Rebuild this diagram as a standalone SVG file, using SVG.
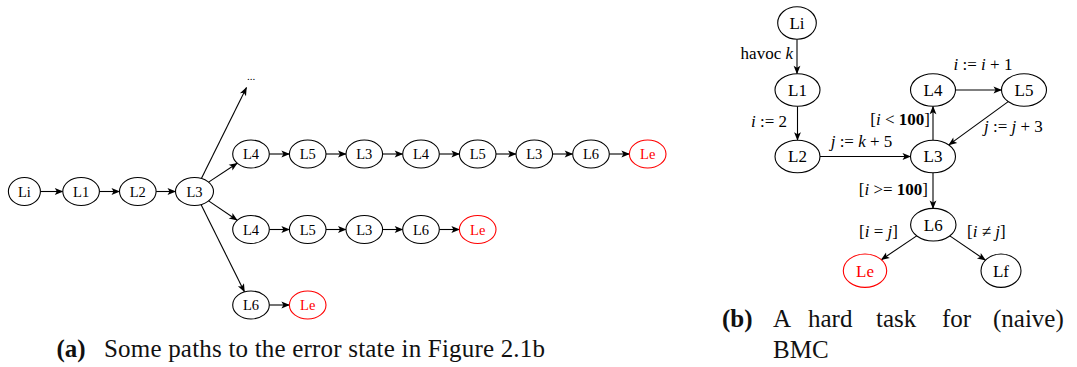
<svg xmlns="http://www.w3.org/2000/svg" width="1077" height="367" viewBox="0 0 1077 367">
<style>
  .n ellipse { fill: #fff; stroke: #000; stroke-width: 1.1; }
  .n text { font-family: "Liberation Serif", "DejaVu Serif", serif; text-anchor: middle; fill: #000; }
  .a text { font-size: 14.5px; }
  .b text { font-size: 17px; }
  .n.err ellipse { stroke: #ff0000; }
  .n.err text { fill: #ff0000; }
  .e line { stroke: #000; stroke-width: 1.1; marker-end: url(#ah); }
  .lbl { font-family: "Liberation Serif", "DejaVu Serif", serif; font-size: 17px; fill: #000; }
  .it { font-style: italic; }
  .bf { font-weight: bold; }
  .cap { font-family: "Liberation Serif", "DejaVu Serif", serif; font-size: 25px; fill: #111; }
</style>
<defs>
  <marker id="ah" markerWidth="10" markerHeight="8" viewBox="-9 -4 10 8" refX="0" refY="0" orient="auto" markerUnits="userSpaceOnUse">
    <path d="M0.5,0 L-8,-3.4 L-6,0 L-8,3.4 Z" fill="#000"/>
  </marker>
</defs>
<rect width="1077" height="367" fill="#fff"/>

<!-- connectors -->
<g id="connectors" class="e">
  <!-- (a) main row -->
  <line x1="40.4" y1="191.5" x2="62.8" y2="191.5"/>
  <line x1="99.4" y1="191.5" x2="119.5" y2="191.5"/>
  <line x1="156.1" y1="191.5" x2="175.5" y2="191.5"/>
  <line x1="201.5" y1="178.2" x2="246.5" y2="87.5"/>
  <line x1="208.6" y1="182.1" x2="237.2" y2="163.2"/>
  <line x1="208.6" y1="200.9" x2="237.2" y2="220.3"/>
  <line x1="201.0" y1="204.6" x2="244.5" y2="291.9"/>
  <!-- top row -->
  <line x1="269.3" y1="154" x2="289.4" y2="154"/>
  <line x1="326.0" y1="154" x2="346.0" y2="154"/>
  <line x1="382.6" y1="154" x2="402.7" y2="154"/>
  <line x1="439.3" y1="154" x2="459.4" y2="154"/>
  <line x1="496.0" y1="154" x2="516.0" y2="154"/>
  <line x1="552.6" y1="154" x2="572.7" y2="154"/>
  <line x1="609.3" y1="154" x2="629.4" y2="154"/>
  <!-- middle row -->
  <line x1="269.3" y1="229.5" x2="289.4" y2="229.5"/>
  <line x1="326.0" y1="229.5" x2="346.0" y2="229.5"/>
  <line x1="382.6" y1="229.5" x2="402.7" y2="229.5"/>
  <line x1="439.3" y1="229.5" x2="459.4" y2="229.5"/>
  <!-- bottom row -->
  <line x1="269.3" y1="305" x2="289.4" y2="305"/>
  <!-- (b) -->
  <line x1="797" y1="39.3" x2="797" y2="73.7"/>
  <line x1="797.5" y1="106.3" x2="797.5" y2="140.2"/>
  <line x1="820" y1="156.5" x2="910.5" y2="156.5"/>
  <line x1="933" y1="140.2" x2="933" y2="106.3"/>
  <line x1="955.5" y1="90" x2="1001.5" y2="90"/>
  <line x1="1008.2" y1="101.6" x2="948.8" y2="144.9"/>
  <line x1="933" y1="172.8" x2="933" y2="208.4"/>
  <line x1="916.7" y1="235.9" x2="881.3" y2="259.7"/>
  <line x1="949.8" y1="235.9" x2="985.5" y2="260.2"/>
</g>

<!-- (a) nodes -->
<g id="a-Li" class="n a"><ellipse cx="24.4" cy="191.5" rx="16" ry="14"/><text x="24.4" y="196.5">Li</text></g>
<g id="a-L1" class="n a"><ellipse cx="81.1" cy="191.5" rx="18.3" ry="14"/><text x="81.1" y="196.5">L1</text></g>
<g id="a-L2" class="n a"><ellipse cx="137.8" cy="191.5" rx="18.3" ry="14"/><text x="137.8" y="196.5">L2</text></g>
<g id="a-L3" class="n a"><ellipse cx="194.5" cy="191.5" rx="19" ry="14"/><text x="194.5" y="196.5">L3</text></g>
<g id="a-dots"><text x="251" y="80" style="font-family:'Liberation Serif','DejaVu Serif',serif;font-size:11px;text-anchor:middle">...</text></g>

<g id="a-t1" class="n a"><ellipse cx="251" cy="154" rx="18.3" ry="14"/><text x="251" y="159">L4</text></g>
<g id="a-t2" class="n a"><ellipse cx="307.7" cy="154" rx="18.3" ry="14"/><text x="307.7" y="159">L5</text></g>
<g id="a-t3" class="n a"><ellipse cx="364.3" cy="154" rx="18.3" ry="14"/><text x="364.3" y="159">L3</text></g>
<g id="a-t4" class="n a"><ellipse cx="421" cy="154" rx="18.3" ry="14"/><text x="421" y="159">L4</text></g>
<g id="a-t5" class="n a"><ellipse cx="477.7" cy="154" rx="18.3" ry="14"/><text x="477.7" y="159">L5</text></g>
<g id="a-t6" class="n a"><ellipse cx="534.3" cy="154" rx="18.3" ry="14"/><text x="534.3" y="159">L3</text></g>
<g id="a-t7" class="n a"><ellipse cx="591" cy="154" rx="18.3" ry="14"/><text x="591" y="159">L6</text></g>
<g id="a-t8" class="n a err"><ellipse cx="647.7" cy="154" rx="18.3" ry="14"/><text x="647.7" y="159">Le</text></g>

<g id="a-m1" class="n a"><ellipse cx="251" cy="229.5" rx="18.3" ry="14"/><text x="251" y="234.5">L4</text></g>
<g id="a-m2" class="n a"><ellipse cx="307.7" cy="229.5" rx="18.3" ry="14"/><text x="307.7" y="234.5">L5</text></g>
<g id="a-m3" class="n a"><ellipse cx="364.3" cy="229.5" rx="18.3" ry="14"/><text x="364.3" y="234.5">L3</text></g>
<g id="a-m4" class="n a"><ellipse cx="421" cy="229.5" rx="18.3" ry="14"/><text x="421" y="234.5">L6</text></g>
<g id="a-m5" class="n a err"><ellipse cx="477.7" cy="229.5" rx="18.3" ry="14"/><text x="477.7" y="234.5">Le</text></g>

<g id="a-b1" class="n a"><ellipse cx="251" cy="305" rx="18.3" ry="14"/><text x="251" y="310">L6</text></g>
<g id="a-b2" class="n a err"><ellipse cx="307.7" cy="305" rx="18.3" ry="14"/><text x="307.7" y="310">Le</text></g>

<!-- (b) nodes -->
<g id="b-Li" class="n b"><ellipse cx="797" cy="23" rx="19.3" ry="16.3"/><text x="797" y="28.8">Li</text></g>
<g id="b-L1" class="n b"><ellipse cx="797.5" cy="90" rx="22.5" ry="16.3"/><text x="797.5" y="95.8">L1</text></g>
<g id="b-L2" class="n b"><ellipse cx="797.5" cy="156.5" rx="22.5" ry="16.3"/><text x="797.5" y="162.3">L2</text></g>
<g id="b-L3" class="n b"><ellipse cx="933" cy="156.5" rx="22.5" ry="16.3"/><text x="933" y="162.3">L3</text></g>
<g id="b-L4" class="n b"><ellipse cx="933" cy="90" rx="22.5" ry="16.3"/><text x="933" y="95.8">L4</text></g>
<g id="b-L5" class="n b"><ellipse cx="1024" cy="90" rx="22.5" ry="16.3"/><text x="1024" y="95.8">L5</text></g>
<g id="b-L6" class="n b"><ellipse cx="933.3" cy="224.7" rx="22.7" ry="16.3"/><text x="933.3" y="230.5">L6</text></g>
<g id="b-Le" class="n b err"><ellipse cx="865" cy="270.7" rx="21.7" ry="16.7"/><text x="865" y="276.5">Le</text></g>
<g id="b-Lf" class="n b"><ellipse cx="1001" cy="270.7" rx="20" ry="16.7"/><text x="1001" y="276.5">Lf</text></g>

<!-- (b) edge labels -->
<g id="labels">
  <text class="lbl" x="793" y="59" text-anchor="end">havoc <tspan class="it">k</tspan></text>
  <text class="lbl" x="787" y="127" text-anchor="end"><tspan class="it">i</tspan> := 2</text>
  <text class="lbl" x="861.5" y="146.5" text-anchor="middle"><tspan class="it">j</tspan> := <tspan class="it">k</tspan> + 5</text>
  <text class="lbl" x="930" y="125" text-anchor="end">[<tspan class="it">i</tspan> &lt; <tspan class="bf">100</tspan>]</text>
  <text class="lbl" x="983" y="70" text-anchor="middle"><tspan class="it">i</tspan> := <tspan class="it">i</tspan> + 1</text>
  <text class="lbl" x="984" y="132"><tspan class="it">j</tspan> := <tspan class="it">j</tspan> + 3</text>
  <text class="lbl" x="928" y="195" text-anchor="end">[<tspan class="it">i</tspan> &gt;= <tspan class="bf">100</tspan>]</text>
  <text class="lbl" x="898" y="236.5" text-anchor="end">[<tspan class="it">i</tspan> = <tspan class="it">j</tspan>]</text>
  <text class="lbl" x="967" y="236.5">[<tspan class="it">i</tspan> ≠ <tspan class="it">j</tspan>]</text>
</g>

<!-- captions -->
<g id="captions">
  <text class="cap" x="56.5" y="356.5"><tspan class="bf">(a)</tspan></text>
  <text class="cap" x="104" y="356.5" textLength="441" lengthAdjust="spacing">Some paths to the error state in Figure 2.1b</text>
  <text class="cap" x="722" y="326.5"><tspan class="bf">(b)</tspan></text>
  <text class="cap" y="326.5"><tspan x="773">A</tspan><tspan x="808">hard</tspan><tspan x="876">task</tspan><tspan x="942">for</tspan><tspan x="993">(naive)</tspan></text>
  <text class="cap" x="773" y="357.5">BMC</text>
</g>
</svg>
